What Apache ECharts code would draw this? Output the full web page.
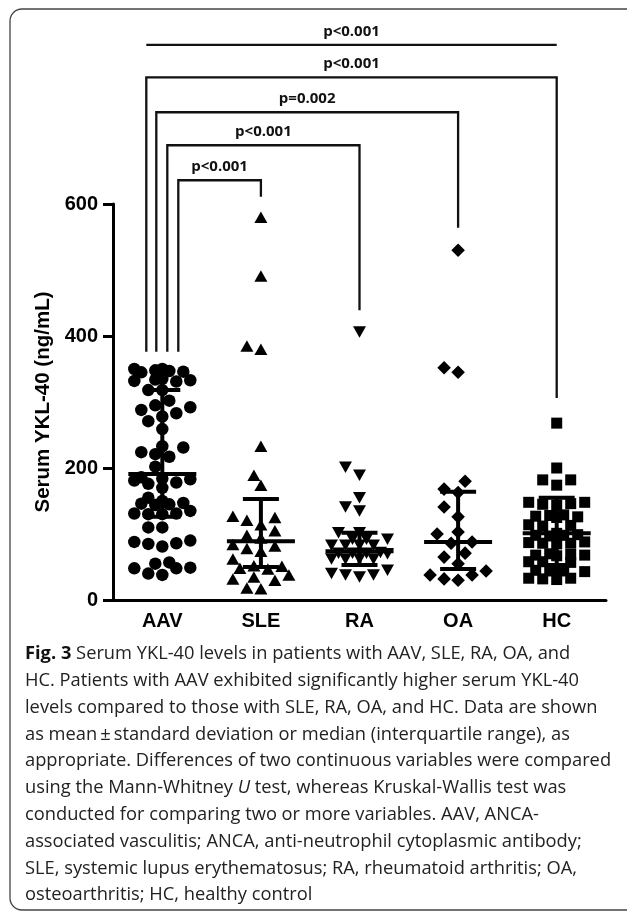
<!DOCTYPE html>
<html>
<head>
<meta charset="utf-8">
<script src="https://cdn.jsdelivr.net/npm/echarts@6/dist/echarts.min.js"></script>
<style>
html,body{margin:0;padding:0;background:#fff;}
#c{width:627px;height:913px;}
</style>
</head>
<body>
<div id="c"></div>
<script>
// ---------------- data ----------------
const categories = ['AAV', 'SLE', 'RA', 'OA', 'HC'];
const aavValues = [348,350,347,345,350,346,332,334,333,335,331,318,318,302,295,292,288,283,278,271,259,231,224,233,221,217,202,183,181,186,184,176,178,170,155,146,144,150,145,147,131,130,135,131,130,110,110,88,85,81,86,90,48,49,57,55,38,40,48];
const sleValues = [580,491,380,385,233,189,174,127,121,125,114,105,98,94,84,82,78,74,62,52,51,48,47,38,35,32,30,18,17];
const raValues = [406,201,189,155,141,135,102,102,92,92,92,83,83,83,83,72,71,71,70,71,62,62,62,62,45,40,38,35,38];
const oaValues = [530,352,345,180,168,163,141,126,103,100,88,86,71,65,55,44,38,32,30,38];
const hcValues = [268,200,182,174,182,148,145,144,148,146,128,126,127,129,125,113,112,114,98,99,101,97,98,88,86,87,85,86,68,70,69,67,68,58,57,58,45,44,43,45,44,33,32,31,33];
const centerValues = [191, 89, 74, 88, 101];
const lowerValues = [126, 50, 53, 47, 53];
const upperValues = [318, 153, 102, 164, 155];
const yTicks = [0, 200, 400, 600];
const yAxisTitle = 'Serum YKL-40 (ng/mL)';
// significance brackets (AAV vs target group)
const bracketLabels = ['p<0.001', 'p<0.001', 'p=0.002', 'p<0.001', 'p<0.001'];
const bracketTargets = [4, 4, 3, 2, 1];
const bracketLevels = [841, 792, 739, 689, 636];
const bracketLeftEnds = [null, 376, 376, 376, 376];
const bracketRightEnds = [null, 306, 564, 439, 611];
const captionLines = [
  '{b|Fig. 3} Serum YKL-40 levels in patients with AAV, SLE, RA, OA, and',
  'HC. Patients with AAV exhibited significantly higher serum YKL-40',
  'levels compared to those with SLE, RA, OA, and HC. Data are shown',
  'as mean\u2009\u00b1\u2009standard deviation or median (interquartile range), as',
  'appropriate. Differences of two continuous variables were compared',
  'using the Mann-Whitney {i|U} test, whereas Kruskal-Wallis test was',
  'conducted for comparing two or more variables. AAV, ANCA-',
  'associated vasculitis; ANCA, anti-neutrophil cytoplasmic antibody;',
  'SLE, systemic lupus erythematosus; RA, rheumatoid arthritis; OA,',
  'osteoarthritis; HC, healthy control'
];

// ---------------- layout / style ----------------
const groups = [aavValues, sleValues, raValues, oaValues, hcValues];
const symbols = ['circle', 'triangle', 'triangle', 'rect', 'rect'];
const symbolRotates = [0, 0, 180, 45, 0];
const symbolSizes = [12.5, [13, 11.5], [13, 11.5], 9.6, 11];
const swarmMinDist = [12.2, 12, 12, 12.5, 11];
const swarmStep = 7;
const swarmMaxSteps = 4;
const bracketLeftOffsetPx = [-16, -16, -6, 5, 16];
const AX = 'Liberation Sans, Arial, sans-serif';
const PF = '"Open Sans", sans-serif';
const CAP_SIZE = 18.3;

const chart = echarts.init(document.getElementById('c'), null, {renderer: 'canvas'});

const baseOption = {
  animation: false,
  backgroundColor: '#fff',
  grid: {left: 113, right: 21, top: 204, bottom: 313, containLabel: false},
  xAxis: {
    type: 'category',
    data: categories,
    boundaryGap: true,
    axisLine: {lineStyle: {color: '#000', width: 3}},
    axisTick: {alignWithLabel: true, length: 9, lineStyle: {color: '#000', width: 3}},
    axisLabel: {color: '#000', fontFamily: AX, fontWeight: 'bold', fontSize: 20, margin: 11},
    splitLine: {show: false}
  },
  yAxis: {
    type: 'value',
    min: yTicks[0],
    max: yTicks[yTicks.length - 1],
    interval: yTicks[1] - yTicks[0],
    name: yAxisTitle,
    nameLocation: 'middle',
    nameRotate: 90,
    nameGap: 56,
    nameTextStyle: {color: '#000', fontFamily: AX, fontWeight: 'bold', fontSize: 20.5},
    axisLine: {show: true, lineStyle: {color: '#000', width: 3}},
    axisTick: {show: true, length: 10, lineStyle: {color: '#000', width: 3}},
    axisLabel: {color: '#000', fontFamily: AX, fontWeight: 'bold', fontSize: 20, margin: 15},
    splitLine: {show: false}
  },
  series: []
};
chart.setOption(baseOption);

// pixel scale for collision-based dot arrangement
const y0 = chart.convertToPixel({yAxisIndex: 0}, 0);
const y1 = chart.convertToPixel({yAxisIndex: 0}, 100);
const pxPerUnit = (y0 - y1) / 100;

function swarmOffsets(values, minDist) {
  const order = values.map((v, i) => i).sort((a, b) => values[a] - values[b]);
  const placed = [];
  const offs = new Array(values.length).fill(0);
  const cands = [0];
  for (let m = 1; m <= swarmMaxSteps; m++) { cands.push(-m * swarmStep, m * swarmStep); }
  for (const i of order) {
    const y = values[i] * pxPerUnit;
    let best = null, bestD = -1;
    for (const x of cands) {
      let dmin = Infinity;
      for (const p of placed) {
        const d = Math.hypot(p[0] - x, p[1] - y);
        if (d < dmin) dmin = d;
      }
      if (dmin >= minDist) { best = x; bestD = dmin; break; }
      if (dmin > bestD + 0.5) { bestD = dmin; best = x; }
    }
    placed.push([best, y]);
    offs[i] = best;
  }
  return offs;
}

const scatterSeries = groups.map((vals, gi) => {
  const offs = swarmOffsets(vals, swarmMinDist[gi]);
  return {
    type: 'scatter',
    name: categories[gi],
    symbol: symbols[gi],
    symbolRotate: symbolRotates[gi],
    symbolSize: symbolSizes[gi],
    itemStyle: {color: '#000', opacity: 1},
    z: 2,
    clip: false,
    data: vals.map((v, i) => ({value: [gi, v], symbolOffset: [offs[i], 0]}))
  };
});

const errorSeries = {
  type: 'custom',
  z: 5,
  clip: false,
  data: categories.map((c, i) => [i, centerValues[i], lowerValues[i], upperValues[i]]),
  renderItem: function (params, api) {
    const c = api.coord([api.value(0), api.value(1)]);
    const lo = api.coord([api.value(0), api.value(2)]);
    const hi = api.coord([api.value(0), api.value(3)]);
    const st = {stroke: '#000', lineWidth: 4};
    return {
      type: 'group',
      children: [
        {type: 'line', shape: {x1: c[0], y1: lo[1], x2: c[0], y2: hi[1]}, style: st},
        {type: 'line', shape: {x1: c[0] - 34, y1: c[1], x2: c[0] + 34, y2: c[1]}, style: st},
        {type: 'line', shape: {x1: c[0] - 18, y1: lo[1], x2: c[0] + 18, y2: lo[1]}, style: st},
        {type: 'line', shape: {x1: c[0] - 18, y1: hi[1], x2: c[0] + 18, y2: hi[1]}, style: st}
      ]
    };
  }
};

const bracketSeries = {
  type: 'custom',
  z: 6,
  clip: false,
  data: bracketLabels.map((l, i) => [i, bracketTargets[i], bracketLevels[i]]),
  renderItem: function (params, api) {
    const i = params.dataIndex;
    const left = api.coord([0, bracketLevels[i]]);
    const right = api.coord([bracketTargets[i], bracketLevels[i]]);
    const lx = left[0] + bracketLeftOffsetPx[i];
    const rx = right[0];
    const ly = left[1];
    const pts = [];
    if (bracketLeftEnds[i] !== null) pts.push([lx, api.coord([0, bracketLeftEnds[i]])[1]]);
    pts.push([lx, ly]);
    pts.push([rx, ly]);
    if (bracketRightEnds[i] !== null) pts.push([rx, api.coord([bracketTargets[i], bracketRightEnds[i]])[1]]);
    return {
      type: 'group',
      children: [
        {type: 'polyline', shape: {points: pts}, style: {stroke: '#111', lineWidth: 2.3, fill: null}},
        {type: 'text', style: {text: bracketLabels[i], x: (lx + rx) / 2, y: ly - 13.5,
          align: 'center', verticalAlign: 'middle', fontFamily: PF, fontWeight: 'bold', fontSize: 15, fill: '#111'}}
      ]
    };
  }
};

const captionGraphics = captionLines.map((t, i) => ({
  type: 'text',
  left: 25,
  top: 645 + i * 26.8,
  style: {
    text: t,
    fontFamily: PF,
    fontSize: CAP_SIZE,
    fill: '#222',
    rich: {
      b: {fontFamily: PF, fontSize: CAP_SIZE, fontWeight: 'bold', fill: '#111'},
      i: {fontFamily: PF, fontSize: CAP_SIZE, fontStyle: 'italic', fill: '#222'}
    }
  }
}));

chart.setOption({
  series: scatterSeries.concat([errorSeries, bracketSeries]),
  graphic: [
    {type: 'rect', shape: {x: 10, y: 9, width: 640, height: 901, r: 12},
      style: {fill: null, stroke: '#444', lineWidth: 1.3}, z: 0}
  ].concat(captionGraphics)
});
</script>
</body>
</html>
